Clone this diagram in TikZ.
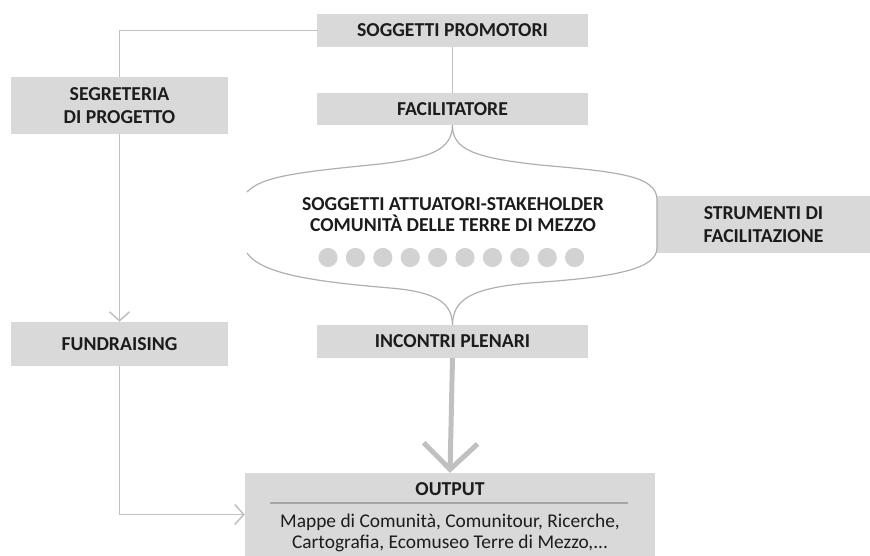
\documentclass[tikz,border=0pt]{standalone}
\usepackage{fontspec}
\setmainfont{Carlito}
\usetikzlibrary{arrows.meta,calc}
\definecolor{boxgray}{HTML}{D9D9D9}
\definecolor{linegray}{HTML}{C0C0C0}
\definecolor{cloudline}{HTML}{AFAFAF}
\definecolor{dotgray}{HTML}{D2D2D2}
\definecolor{sepgray}{HTML}{A6A6A6}
\definecolor{txt}{HTML}{1C1C1C}
\begin{document}
\begin{tikzpicture}[x=1bp,y=-1bp,
  box/.style={fill=boxgray, inner sep=0pt, text=txt, align=center,
    font=\bfseries\fontsize{19.8}{23}\selectfont},
  plain/.style={inner sep=0pt, text=txt, align=center},
  conn/.style={draw=linegray, line width=1.5bp},
  connarrow/.style={conn, -{Straight Barb[length=9bp,width=20bp]}},
  bigarrow/.style={draw=linegray, line width=5bp, -{Straight Barb[length=26bp,width=54bp]}},
  cloud/.style={draw=cloudline, line width=1.2bp}
]
\useasboundingbox (0,0) rectangle (870,556);

% boxes
\node[box, minimum width=271bp, minimum height=33bp] (prom) at (452.5,30.5) {SOGGETTI PROMOTORI};
\node[box, minimum width=271bp, minimum height=32bp] (fac) at (452.5,109) {FACILITATORE};
\node[box, minimum width=271bp, minimum height=33bp] (inc) at (452.5,341.5) {INCONTRI PLENARI};
\node[box, minimum width=217bp, minimum height=57bp] (segr) at (119.5,105.5) {SEGRETERIA\\DI PROGETTO};
\node[box, minimum width=217bp, minimum height=44bp] (fund) at (119.5,344) {FUNDRAISING};
\node[box, minimum width=213bp, minimum height=57bp] (strum) at (763.5,224.5) {STRUMENTI DI\\FACILITAZIONE};
\node[fill=boxgray, inner sep=0pt, minimum width=410bp, minimum height=83bp] (out) at (450,514.5) {};

% output content
\node[plain, font=\bfseries\fontsize{19.8}{23}\selectfont] (outt) at (450,489) {OUTPUT};
\coordinate (sepL) at (270,503);
\coordinate (sepR) at (628,503);
\draw[draw=sepgray, line width=2bp] (sepL) -- (sepR);
\node[plain, font=\fontsize{19.5}{21}\selectfont] (outd) at (450,533) {Mappe di Comunità, Comunitour, Ricerche,\\Cartografia, Ecomuseo Terre di Mezzo,...};

% cloud
\draw[cloud] (247,192) .. controls (262,176) and (300,172) .. (380,164)
  .. controls (430,158) and (452,150) .. (fac.south);
\draw[cloud] (fac.south) .. controls (452,150) and (476,158) .. (540,165)
  .. controls (620,172) and (657,176) .. (657,200)
  -- (657,248)
  .. controls (657,272) and (600,278) .. (530,283)
  .. controls (470,288) and (453,300) .. (inc.north);
\draw[cloud] (247,253) .. controls (262,275) and (320,282) .. (390,288)
  .. controls (440,292) and (452,305) .. (inc.north);

\node[plain, font=\bfseries\fontsize{19.8}{21.5}\selectfont] (act) at (453,214.5)
  {SOGGETTI ATTUATORI-STAKEHOLDER\\COMUNITÀ DELLE TERRE DI MEZZO};
\foreach \i in {0,...,9}
  \fill[dotgray] (328+27.4*\i,257.5) circle [radius=9.6bp];

% connectors
\draw[conn] (prom.west) -| (segr.north);
\draw[conn] (prom.south) -- (fac.north);
\draw[connarrow] (segr.south) -- (fund.north);
\draw[connarrow] (fund.south) |- (out.west);
\draw[bigarrow] (inc.south) -- (out.north);
\end{tikzpicture}
\end{document}
